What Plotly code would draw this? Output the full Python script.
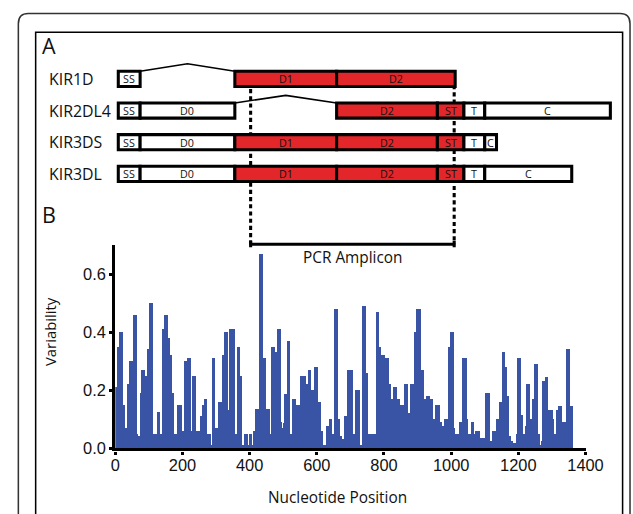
import numpy as np
import plotly.graph_objects as go

# The page is photographed with a uniform ~0.975 scale; lay the figure out in page pixels so that
# reference pixel coordinates land where they belong in the photograph.
REF_W, REF_H = 633, 514
SHOT_SCALE = 0.9753
S = 1 / SHOT_SCALE
W, H = round(REF_W * S), round(REF_H * S)

# ---------------- Panel B data: variability per nucleotide segment ----------------
seg_start = [0, 7, 12, 24, 31, 36, 43, 53, 64, 69, 75, 78, 90, 95, 102, 113, 124, 135, 139, 147,
             159, 164, 169, 176, 186, 198, 206, 214, 225, 229, 240, 255, 260, 264, 273, 286, 289, 299, 306, 320,
             325, 337, 340, 356, 362, 373, 378, 383, 395, 398, 408, 413, 418, 430, 442, 450, 460, 464, 476, 481,
             493, 497, 501, 506, 511, 522, 528, 540, 550, 569, 574, 584, 591, 604, 614, 620, 628, 636, 646, 653,
             665, 670, 675, 682, 690, 708, 714, 728, 735, 748, 753, 777, 787, 792, 804, 817, 822, 829, 840, 848,
             861, 873, 878, 890, 897, 910, 920, 927, 939, 946, 953, 969, 973, 980, 990, 998, 1008, 1012, 1025, 1034,
             1047, 1051, 1061, 1069, 1073, 1086, 1103, 1115, 1122, 1133, 1137, 1142, 1151, 1161, 1166, 1173, 1180, 1186, 1195, 1198,
             1210, 1215, 1221, 1225, 1237, 1244, 1247, 1259, 1264, 1269, 1274, 1279, 1290, 1303, 1306, 1313, 1318, 1330, 1342, 1354]
variability = [0.21, 0.35, 0.40, 0.15, 0.07, 0.22, 0.30, 0.46, 0.05, 0.04, 0.19, 0.27, 0.25, 0.34, 0.50, 0.05, 0.125, 0.05, 0.41, 0.46,
               0.38, 0.32, 0.19, 0.05, 0.15, 0.06, 0.30, 0.31, 0.06, 0.25, 0.06, 0.11, 0.15, 0.17, 0.05, 0.01, 0.31, 0.07, 0.16, 0.32,
               0.40, 0.13, 0.41, 0.05, 0.35, 0.25, 0.01, 0.05, 0.01, 0.05, 0.01, 0.06, 0.135, 0.67, 0.31, 0.135, 0.05, 0.35, 0.33, 0.41,
               0.09, 0.07, 0.085, 0.185, 0.37, 0.05, 0.17, 0.15, 0.25, 0.22, 0.27, 0.20, 0.28, 0.16, 0.06, 0.01, 0.075, 0.10, 0.05, 0.48,
               0.10, 0.04, 0.03, 0.11, 0.27, 0.05, 0.20, 0.01, 0.49, 0.26, 0.05, 0.47, 0.35, 0.32, 0.31, 0.22, 0.17, 0.21, 0.17, 0.15,
               0.22, 0.12, 0.22, 0.40, 0.48, 0.27, 0.17, 0.18, 0.17, 0.10, 0.15, 0.09, 0.075, 0.10, 0.35, 0.40, 0.07, 0.05, 0.09, 0.31,
               0.10, 0.05, 0.09, 0.05, 0.06, 0.035, 0.19, 0.025, 0.06, 0.025, 0.10, 0.16, 0.33, 0.28, 0.18, 0.04, 0.025, 0.017, 0.05, 0.31,
               0.115, 0.05, 0.075, 0.22, 0.10, 0.17, 0.29, 0.05, 0.01, 0.025, 0.23, 0.245, 0.13, 0.10, 0.05, 0.13, 0.145, 0.09, 0.34, 0.145]
seq_end = 1364

x_ticks = [0, 200, 400, 600, 800, 1000, 1200, 1400]
y_ticks = [0.0, 0.2, 0.4, 0.6]
y_tick_labels = ["0.0", "0.2", "0.4", "0.6"]

# ---------------- Panel A data: gene structures (nucleotide coordinates) ----------------
genes = ["KIR1D", "KIR2DL4", "KIR3DS", "KIR3DL"]
kir1d_domains = [("SS", 9, 74), ("D1", 356, 659), ("D2", 659, 1012)]
kir2dl4_domains = [("SS", 9, 74), ("D0", 74, 356), ("D2", 659, 959), ("ST", 959, 1038), ("T", 1038, 1100), ("C", 1100, 1474)]
kir3ds_domains = [("SS", 9, 74), ("D0", 74, 356), ("D1", 356, 659), ("D2", 659, 959), ("ST", 959, 1038), ("T", 1038, 1100), ("C", 1100, 1135)]
kir3dl_domains = [("SS", 9, 74), ("D0", 74, 356), ("D1", 356, 659), ("D2", 659, 959), ("ST", 959, 1038), ("T", 1038, 1100), ("C", 1100, 1359)]
gene_domains = [kir1d_domains, kir2dl4_domains, kir3ds_domains, kir3dl_domains]
red_domains = ["D1", "D2", "ST"]
introns = [(0, 74, 356), (1, 356, 659)]   # (row, from, to)
amplicon = (403, 1009)

# ---------------- styles ----------------
BAR_BLUE = "#3a54a5"
RED = "#e3262a"
TICK_FONT = "Liberation Sans, Arial, sans-serif"
TEXT_FONT = "Open Sans, Noto Sans, sans-serif"

def z(v):
    """size in photographed pixels -> page pixels"""
    return v * S

def pxx(x):
    return x / REF_W

def pxy(y):
    return 1 - y / REF_H

# axis 1 geometry
xd = [pxx(111.5), pxx(587)]
yd = [pxy(445), pxy(243.5)]
xr = [0, 1400]
span = (xr[1] - xr[0]) / (xd[1] - xd[0])
xr2 = [xr[0] - xd[0] * span, xr[0] + (1 - xd[0]) * span]
row0_px, row_step = 78.3, 31.4
y2_bot_px, y2_top_px = 262, 32
y2d = [pxy(y2_bot_px), pxy(y2_top_px)]
yr2 = [(y2_bot_px - row0_px) / row_step, (y2_top_px - row0_px) / row_step]
half_h = 0.24
amp_row = (242.3 - row0_px) / row_step

fig = go.Figure()

edges = seg_start + [seq_end]
widths = list(np.diff(edges))
fig.add_trace(go.Bar(x=seg_start, y=variability, width=widths, offset=0,
                     marker=dict(color=BAR_BLUE, line=dict(width=0)),
                     xaxis="x", yaxis="y", showlegend=False, hoverinfo="skip"))

for row, a, b in introns:
    fig.add_trace(go.Scatter(x=[a, (a + b) / 2, b],
                             y=[row - half_h, row - half_h - 0.24, row - half_h],
                             mode="lines", line=dict(color="black", width=z(1.5)),
                             xaxis="x2", yaxis="y2", showlegend=False, hoverinfo="skip"))

shapes = []
dash = f"{z(4):.1f}px,{z(3):.1f}px"
shapes.append(dict(type="line", xref="x2", yref="y2", x0=amplicon[0], x1=amplicon[0],
                   y0=0 + half_h + 0.08, y1=amp_row, line=dict(color="black", width=z(3), dash=dash), layer="below"))
shapes.append(dict(type="line", xref="x2", yref="y2", x0=amplicon[1], x1=amplicon[1],
                   y0=0 - half_h - 0.02, y1=amp_row, line=dict(color="black", width=z(3), dash=dash), layer="below"))
shapes.append(dict(type="line", xref="x2", yref="y2", x0=amplicon[0], x1=amplicon[1],
                   y0=amp_row, y1=amp_row, line=dict(color="black", width=z(3))))
for xe in amplicon:
    shapes.append(dict(type="line", xref="x2", yref="y2", x0=xe, x1=xe,
                       y0=amp_row - 0.1, y1=amp_row + 0.1, line=dict(color="black", width=z(3))))

annotations = []
for row, doms in enumerate(gene_domains):
    for name, a, b in doms:
        shapes.append(dict(type="rect", xref="x2", yref="y2", x0=a, x1=b,
                           y0=row - half_h, y1=row + half_h,
                           fillcolor=RED if name in red_domains else "white",
                           line=dict(color="black", width=z(3))))
        annotations.append(dict(xref="x2", yref="y2", x=(a + b) / 2, y=row, text=name,
                                showarrow=False, font=dict(family=TEXT_FONT, size=z(10.5), color="#111"),
                                xanchor="center", yanchor="middle"))
    annotations.append(dict(xref="paper", yref="y2", x=pxx(42), y=row, text=genes[row],
                            showarrow=False, font=dict(family=TEXT_FONT, size=z(15.5), color="#111"),
                            xanchor="left", yanchor="middle"))

# frames
shapes.append(dict(type="path", xref="paper", yref="paper",
                   path=f"M {pxx(13.5)},0 L {pxx(13.5)},{pxy(23.5)} Q {pxx(13.5)},{pxy(13.5)} {pxx(23.5)},{pxy(13.5)} "
                        f"L {pxx(622)},{pxy(13.5)} Q {pxx(632)},{pxy(13.5)} {pxx(632)},{pxy(23.5)} L {pxx(632)},0",
                   line=dict(color="#333", width=z(1.5))))
shapes.append(dict(type="path", xref="paper", yref="paper",
                   path=f"M {pxx(31)},0 L {pxx(31)},{pxy(32)} L {pxx(624.5)},{pxy(32)} L {pxx(624.5)},0",
                   line=dict(color="black", width=z(1.5))))

annotations += [
    dict(xref="paper", yref="paper", x=pxx(35), y=pxy(45), text="A", showarrow=False,
         font=dict(family=TEXT_FONT, size=z(21), color="#111"), xanchor="left", yanchor="middle"),
    dict(xref="paper", yref="paper", x=pxx(35), y=pxy(213), text="B", showarrow=False,
         font=dict(family=TEXT_FONT, size=z(21), color="#111"), xanchor="left", yanchor="middle"),
    dict(xref="x2", yref="paper", x=(amplicon[0] + amplicon[1]) / 2, y=pxy(256), text="PCR Amplicon", showarrow=False,
         font=dict(family=TEXT_FONT, size=z(15), color="#111"), xanchor="center", yanchor="middle"),
    dict(xref="paper", yref="paper", x=pxx(45), y=pxy(329), text="Variability", showarrow=False, textangle=-90,
         font=dict(family=TEXT_FONT, size=z(14.5), color="#111"), xanchor="center", yanchor="middle"),
    dict(xref="paper", yref="paper", x=pxx(336), y=pxy(494), text="Nucleotide Position", showarrow=False,
         font=dict(family=TEXT_FONT, size=z(15), color="#111"), xanchor="center", yanchor="middle"),
]

axis_common = dict(showline=True, linewidth=z(3), linecolor="black", ticks="outside", ticklen=z(3),
                   tickwidth=z(2.5), tickcolor="black", showgrid=False, zeroline=False, fixedrange=True,
                   tickfont=dict(family=TICK_FONT, size=z(16), color="#111"))

fig.update_layout(
    width=W, height=H, margin=dict(l=0, r=0, t=0, b=0),
    paper_bgcolor="white", plot_bgcolor="rgba(0,0,0,0)",
    showlegend=False,
    xaxis=dict(domain=xd, range=xr, tickvals=x_ticks, ticklabelstandoff=-3, **axis_common),
    yaxis=dict(domain=yd, range=[0, 0.7], tickvals=y_ticks, ticktext=y_tick_labels, **axis_common),
    xaxis2=dict(domain=[0, 1], range=xr2, visible=False, anchor="y2", fixedrange=True),
    yaxis2=dict(domain=y2d, range=yr2, visible=False, anchor="x2", fixedrange=True),
    shapes=shapes, annotations=annotations, bargap=0,
)

fig.write_html("out.html", config={"displayModeBar": False},
               post_script="document.documentElement.style.margin='0';document.body.style.margin='0';")
